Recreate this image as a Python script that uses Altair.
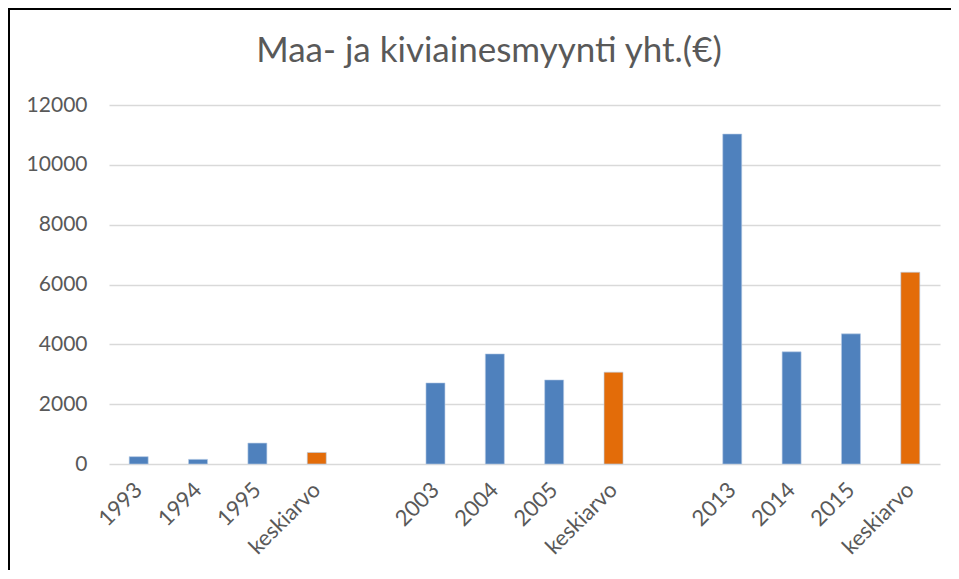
import altair as alt
import pandas as pd

# --- data ---
categories = ["1993", "1994", "1995", "ka1", "2003", "2004", "2005", "ka2",
              "2013", "2014", "2015", "ka3"]
values = [245, 155, 700, 385, 2710, 3680, 2810, 3070, 11030, 3750, 4350, 6410]
kinds = ["vuosi", "vuosi", "vuosi", "keskiarvo",
         "vuosi", "vuosi", "vuosi", "keskiarvo",
         "vuosi", "vuosi", "vuosi", "keskiarvo"]
axis_order = ["1993", "1994", "1995", "ka1", "g1", "2003", "2004", "2005", "ka2",
              "g2", "2013", "2014", "2015", "ka3"]
y_ticks = [0, 2000, 4000, 6000, 8000, 10000, 12000]
title_text = "Maa- ja kiviainesmyynti yht.(€)"

df = pd.DataFrame({"cat": categories, "value": values, "kind": kinds})

FONT = "Lato"
GREY = "#595959"

label_expr = ("indexof(datum.value, 'ka') == 0 ? 'keskiarvo' : "
              "(indexof(datum.value, 'g') == 0 ? '' : datum.value)")

bars = alt.Chart(df).mark_bar(stroke="#B9CDE5", strokeWidth=0.6).encode(
    x=alt.X("cat:N", sort=axis_order,
            scale=alt.Scale(domain=axis_order, paddingInner=0.68, paddingOuter=0.34),
            axis=alt.Axis(title=None, labelAngle=-45, labelExpr=label_expr,
                          labelFontSize=22, labelColor=GREY, labelFont=FONT,
                          labelPadding=22, ticks=False, domain=False,
                          labelAlign="right", labelBaseline="middle")),
    y=alt.Y("value:Q", scale=alt.Scale(domain=[0, 12000], nice=False),
            axis=alt.Axis(title=None, values=y_ticks, format="d", labelFontSize=21,
                          labelColor=GREY, labelFont=FONT, labelPadding=22,
                          ticks=False, domain=False, gridColor="#D9D9D9",
                          gridWidth=1.3)),
    color=alt.Color("kind:N",
                    scale=alt.Scale(domain=["vuosi", "keskiarvo"],
                                    range=["#4F81BD", "#E36C09"]),
                    legend=None),
)

frame_df = pd.DataFrame({"a": [0]})
top_line = alt.Chart(frame_df).mark_rect(color="black").encode(
    x=alt.value(-101), x2=alt.value(842), y=alt.value(-97), y2=alt.value(-95))
left_line = alt.Chart(frame_df).mark_rule(color="black", strokeWidth=2).encode(
    x=alt.value(-100), x2=alt.value(-100), y=alt.value(-97), y2=alt.value(465))
title = alt.Chart(frame_df).mark_text(
    text=title_text, font=FONT, fontSize=35, color=GREY,
    align="center", baseline="alphabetic").encode(
    x=alt.value(380), y=alt.value(-43))

chart = alt.layer(bars, top_line, left_line, title).properties(
    width=831, height=359,
    autosize=alt.AutoSizeParams(type="none"),
    padding={"left": 101, "top": 97, "right": 11, "bottom": 115},
).configure(background="white").configure_view(strokeWidth=0)

chart.save("out.html", embed_options={"renderer": "svg", "actions": False})
